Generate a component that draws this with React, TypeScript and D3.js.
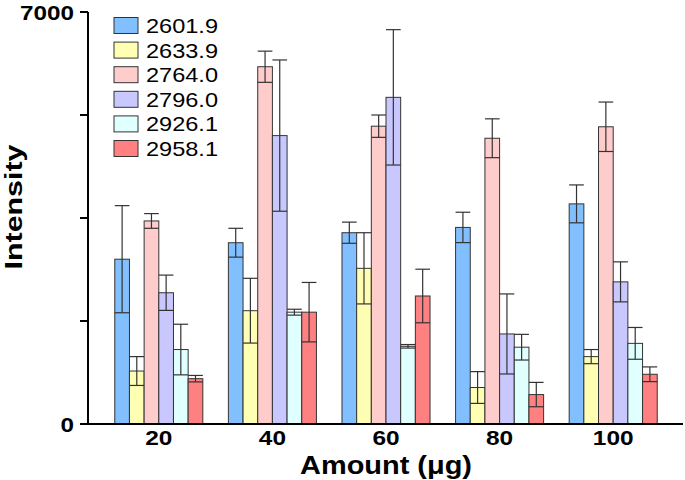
import React from "react";
import * as d3 from "d3";

const categories = ["20", "40", "60", "80", "100"];
const seriesNames = ["2601.9", "2633.9", "2764.0", "2796.0", "2926.1", "2958.1"];
const seriesColors = ["#82BFFF", "#FFFFB4", "#FFCCCC", "#C8C8FF", "#E0FFFF", "#FF8080"];
// values[series][category]
const s2601 = [2800, 3080, 3250, 3340, 3740];
const s2633 = [900, 1925, 2645, 620, 1145];
const s2764 = [3450, 6070, 5060, 4855, 5050];
const s2796 = [2230, 4900, 5550, 1530, 2415];
const s2926 = [1265, 1900, 1320, 1305, 1370];
const s2958 = [770, 1900, 2175, 500, 845];
const e2601 = [910, 245, 180, 258, 322];
const e2633 = [245, 550, 605, 270, 120];
const e2764 = [125, 265, 190, 330, 420];
const e2796 = [300, 1285, 1150, 680, 340];
const e2926 = [430, 50, 30, 218, 270];
const e2958 = [55, 505, 455, 207, 125];
const values = [s2601, s2633, s2764, s2796, s2926, s2958];
const errors = [e2601, e2633, e2764, e2796, e2926, e2958];
const yTicks = [0, 1750, 3500, 5250, 7000];
const yTickLabels = ["0", "", "", "", "7000"];

export default function App() {
  const W = 685, H = 480;
  const x0 = d3.scaleBand().domain(categories).range([102, 670]).paddingInner(0.225).paddingOuter(0.1125);
  const x1 = d3.scaleBand().domain(seriesNames).range([0, x0.bandwidth()]).padding(0);
  const y = d3.scaleLinear().domain([0, 7000]).range([424, 12]);
  const axisX = 88;
  const font = "Arial, 'Liberation Sans', sans-serif";
  const bw = x1.bandwidth();

  return (
    <div style={{ position: "absolute", left: 0, top: 0 }}>
      <svg width={W} height={H} style={{ display: "block", background: "#fff" }} fontFamily={font}>
        {/* bars */}
        {seriesNames.map((s, si) =>
          categories.map((c, ci) => {
            const bx = (x0(c) as number) + (x1(s) as number);
            const v = values[si][ci];
            return (
              <rect key={s + c} x={bx} y={y(v)} width={bw} height={y(0) - y(v)}
                fill={seriesColors[si]} stroke="#333" strokeWidth={1} />
            );
          })
        )}
        {/* error bars */}
        {seriesNames.map((s, si) =>
          categories.map((c, ci) => {
            const bx = (x0(c) as number) + (x1(s) as number);
            const cx = bx + bw / 2;
            const v = values[si][ci];
            const e = errors[si][ci];
            const yt = y(v + e), yb = y(v - e);
            return (
              <g key={"e" + s + c} stroke="#333" strokeWidth={1.2} fill="none">
                <line x1={cx} x2={cx} y1={yt} y2={yb} />
                <line x1={bx} x2={bx + bw} y1={yt} y2={yt} />
                <line x1={bx} x2={bx + bw} y1={yb} y2={yb} />
              </g>
            );
          })
        )}
        {/* axes */}
        <line x1={axisX} x2={axisX} y1={y(7000)} y2={y(0) + 1} stroke="#000" strokeWidth={2} />
        <line x1={axisX - 1} x2={683} y1={y(0)} y2={y(0)} stroke="#000" strokeWidth={2} />
        {yTicks.map((t, i) => (
          <g key={"yt" + t}>
            <line x1={axisX - 8} x2={axisX} y1={y(t)} y2={y(t)} stroke="#000" strokeWidth={2} />
            {yTickLabels[i] && (
              <text x={axisX - 14} y={y(t)} dy="0.36em" textAnchor="end" fontSize={21} fontWeight="bold"
                textLength={yTickLabels[i].length * 13.5} lengthAdjust="spacingAndGlyphs">
                {yTickLabels[i]}
              </text>
            )}
          </g>
        ))}
        {categories.map((c) => (
          <text key={"xl" + c} x={(x0(c) as number) + x0.bandwidth() / 2} y={445} textAnchor="middle"
            fontSize={21} fontWeight="bold" textLength={c.length * 13.6} lengthAdjust="spacingAndGlyphs">
            {c}
          </text>
        ))}
        <text x={386} y={474} textAnchor="middle" fontSize={25} fontWeight="bold"
          textLength={172} lengthAdjust="spacingAndGlyphs">
          Amount (μg)
        </text>
        <text transform="translate(22,207) rotate(-90)" textAnchor="middle" fontSize={24} fontWeight="bold"
          textLength={125} lengthAdjust="spacingAndGlyphs">
          Intensity
        </text>
        {/* legend */}
        {seriesNames.map((s, i) => {
          const ly = 17.5 + i * 24.6;
          return (
            <g key={"lg" + s}>
              <rect x={114} y={ly} width={24} height={16} fill={seriesColors[i]} stroke="#333" strokeWidth={1} />
              <text x={146} y={ly + 8} dy="0.36em" fontSize={21} textLength={72} lengthAdjust="spacingAndGlyphs">
                {s}
              </text>
            </g>
          );
        })}
      </svg>
    </div>
  );
}
